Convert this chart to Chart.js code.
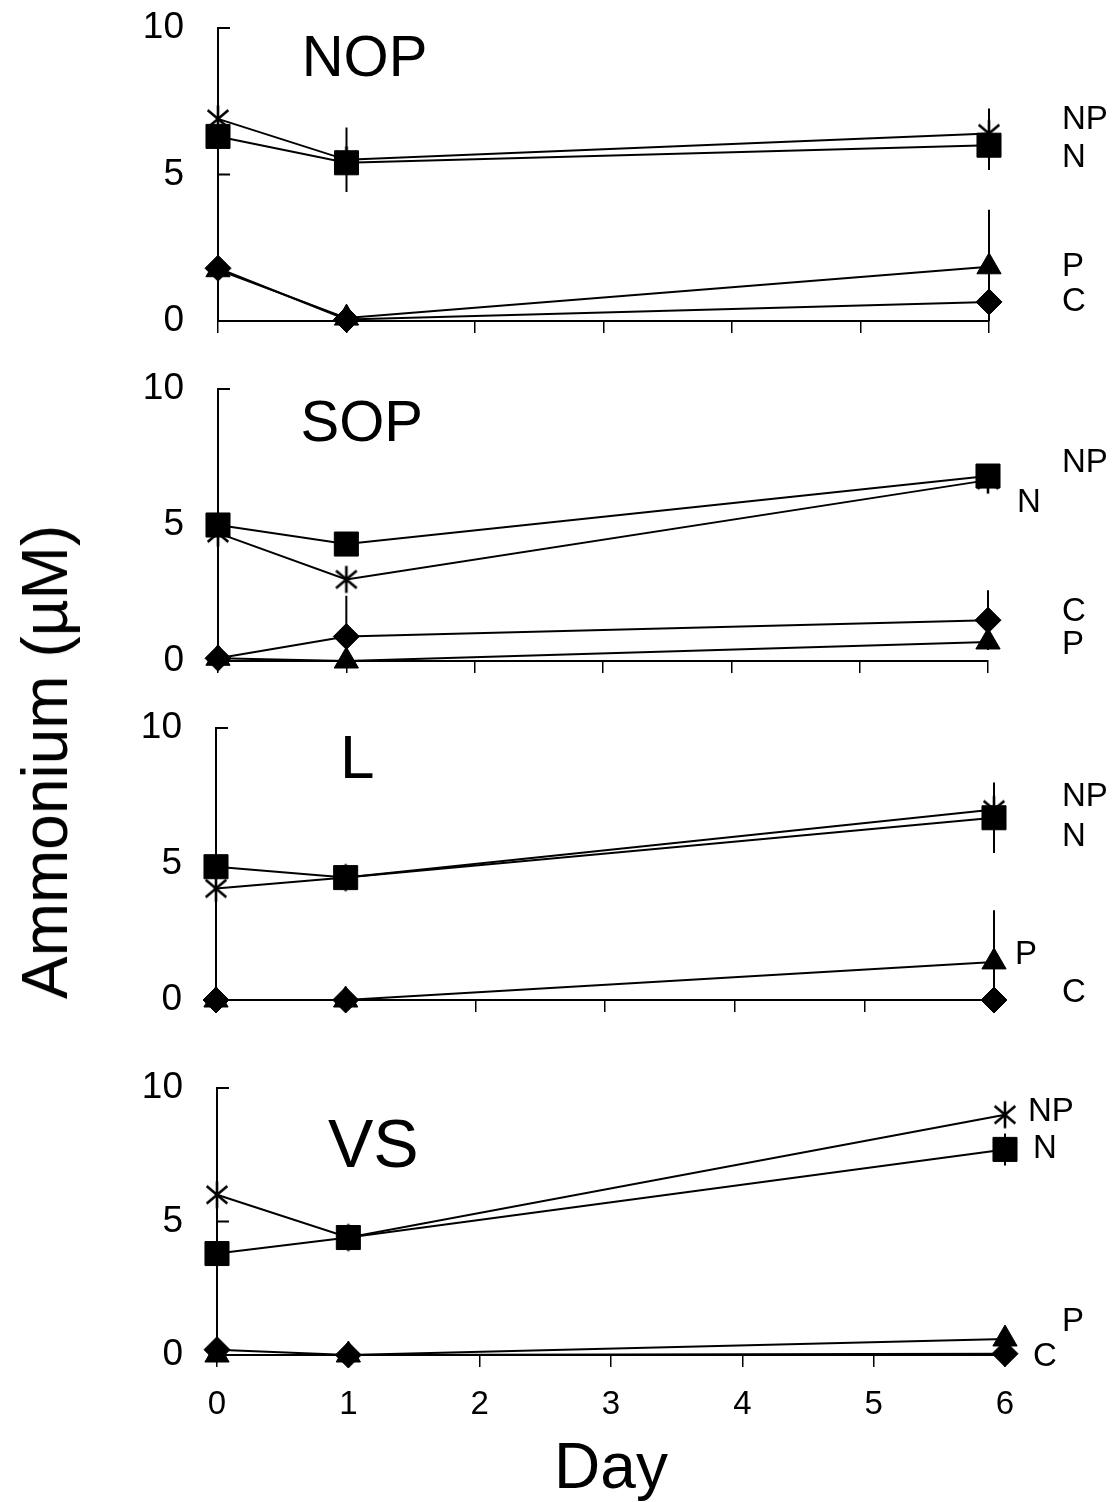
<!DOCTYPE html>
<html>
<head>
<meta charset="utf-8">
<script src="https://cdn.jsdelivr.net/npm/chart.js@4"></script>
<style>
  html, body { margin: 0; padding: 0; background: #fff; }
  #page { position: relative; width: 1112px; height: 1502px; overflow: hidden; background: #fff; }
  .panel { position: absolute; left: 0; width: 1112px; }
  #ylabel {
    position: absolute; left: 45px; top: 762px;
    transform: translate(-50%, -50%) rotate(-90deg);
    font: 64px "Liberation Sans", Arial, sans-serif;
    white-space: nowrap; color: #000;
  }
</style>
</head>
<body>
<div id="page">
  <div class="panel" id="wrap0"><canvas id="c0"></canvas></div>
  <div class="panel" id="wrap1"><canvas id="c1"></canvas></div>
  <div class="panel" id="wrap2"><canvas id="c2"></canvas></div>
  <div class="panel" id="wrap3"><canvas id="c3"></canvas></div>
  <div id="ylabel">Ammonium (µM)</div>
</div>
<script>
// ============================================
// Ammonium (µM) vs Day, four stations
// ============================================

var days = [0, 1, 6];
var xTicks = [0, 1, 2, 3, 4, 5, 6];
var yTicks = [0, 5, 10];

// NOP
var nopNP = [6.9, 5.5, 6.4];
var nopN  = [6.3, 5.4, 6.0];
var nopP  = [1.75, 0.1, 1.85];
var nopC  = [1.8, 0.05, 0.65];
var nopErrNP = [0, 1.1, 0.85];
var nopErrN  = [0, 0, 0.85];
var nopErrP  = [0, 0, 1.95];
var nopErrC  = [0, 0, 0];

// SOP
var sopNP = [4.7, 3.0, 6.65];
var sopN  = [5.0, 4.3, 6.8];
var sopP  = [0.1, 0.0, 0.7];
var sopC  = [0.1, 0.9, 1.5];
var sopErrNP = [0, 0, 0.3];
var sopErrN  = [0, 0, 0.3];
var sopErrP  = [0, 0, 0];
var sopErrC  = [0, 1.5, 1.1];

// L
var lNP = [4.1, 4.5, 7.0];
var lN  = [4.9, 4.5, 6.7];
var lP  = [0.0, 0.0, 1.4];
var lC  = [0.0, 0.0, 0.0];
var lErrNP = [0, 0, 1.0];
var lErrN  = [0, 0, 1.3];
var lErrP  = [0, 0, 1.9];
var lErrC  = [0, 0, 0];

// VS
var vsNP = [6.0, 4.4, 9.0];
var vsN  = [3.8, 4.4, 7.7];
var vsP  = [0.0, 0.0, 0.6];
var vsC  = [0.2, 0.0, 0.05];
var vsErrNP = [0, 0.3, 0.2];
var vsErrN  = [0, 0.35, 0.6];
var vsErrP  = [0, 0, 0];
var vsErrC  = [1.0, 0, 0];

var FONT = '"Liberation Sans", Arial, sans-serif';

// --------------------------------------------------
//  Asterisk marker (Excel style, 6 arms)
// --------------------------------------------------
function makeAsterisk(size) {
    var c = document.createElement('canvas');
    c.width = size; c.height = size;
    var g = c.getContext('2d');
    var m = size / 2, r = size / 2 - 1.5;
    var a = 40 * Math.PI / 180;
    g.strokeStyle = '#000';
    g.lineWidth = 2.6;
    g.beginPath();
    g.moveTo(m, m - r); g.lineTo(m, m + r);
    g.moveTo(m - r * Math.cos(a), m - r * Math.sin(a));
    g.lineTo(m + r * Math.cos(a), m + r * Math.sin(a));
    g.moveTo(m - r * Math.cos(a), m + r * Math.sin(a));
    g.lineTo(m + r * Math.cos(a), m - r * Math.sin(a));
    g.stroke();
    return c;
}
var asterisk = makeAsterisk(30);

// --------------------------------------------------
//  Panel layout (plot area in page pixels, text spots)
// --------------------------------------------------
var panels = [
    { name: 'NOP', area: { left: 218, right: 989, top: 28, bottom: 321 },
      titleAt: [1.14, 8.9], titleSize: 58,
      values: [nopNP, nopN, nopP, nopC], errs: [nopErrNP, nopErrN, nopErrP, nopErrC],
      tags: [['NP', 73, 6.86], ['N', 73, 5.56], ['P', 73, 1.84], ['C', 73, 0.65]] },
    { name: 'SOP', area: { left: 218, right: 988, top: 389, bottom: 661 },
      titleAt: [1.12, 8.68], titleSize: 58,
      values: [sopNP, sopN, sopP, sopC], errs: [sopErrNP, sopErrN, sopErrP, sopErrC],
      tags: [['NP', 74, 7.28], ['N', 29, 5.81], ['C', 74, 1.80], ['P', 74, 0.59]] },
    { name: 'L', area: { left: 216, right: 994, top: 728, bottom: 1000 },
      titleAt: [1.09, 8.79], titleSize: 62,
      values: [lNP, lN, lP, lC], errs: [lErrNP, lErrN, lErrP, lErrC],
      tags: [['NP', 68, 7.46], ['N', 68, 5.99], ['P', 21, 1.65], ['C', 68, 0.26]] },
    { name: 'VS', area: { left: 217, right: 1005, top: 1088, bottom: 1355 },
      titleAt: [1.19, 7.75], titleSize: 68,
      values: [vsNP, vsN, vsP, vsC], errs: [vsErrNP, vsErrN, vsErrP, vsErrC],
      tags: [['NP', 23, 9.1], ['N', 28, 7.72], ['P', 57, 1.24], ['C', 28, -0.07]] }
];

var markers = [
    { style: asterisk, radius: 12 },
    { style: 'rect', radius: 17 },
    { style: 'triangle', radius: 14 },
    { style: 'rectRot', radius: 13 }
];

// --------------------------------------------------
//  Decorations: error bars, inward y ticks, text
// --------------------------------------------------
var panelDecor = {
    id: 'panelDecor',
    beforeDatasetsDraw: function (chart) {
        var xs = chart.scales.x, ys = chart.scales.y, ctx = chart.ctx;
        ctx.save();
        ctx.strokeStyle = '#000';
        ctx.lineWidth = 2;
        ctx.beginPath();
        chart.data.datasets.forEach(function (ds) {
            ds.data.forEach(function (pt, i) {
                var e = ds.err[i];
                if (!e) return;
                var x = xs.getPixelForValue(pt.x);
                ctx.moveTo(x, ys.getPixelForValue(pt.y + e));
                ctx.lineTo(x, ys.getPixelForValue(Math.max(pt.y - e, 0)));
            });
        });
        ctx.stroke();

        // y ticks drawn pointing into the plot
        ctx.lineWidth = 2;
        ctx.beginPath();
        yTicks.forEach(function (v) {
            if (v === 0) return;
            var y = ys.getPixelForValue(v);
            ctx.moveTo(xs.left, y);
            ctx.lineTo(xs.left + 12, y);
        });
        ctx.stroke();
        ctx.restore();
    },
    afterDraw: function (chart) {
        var p = chart.options.plugins.panelDecor;
        var xs = chart.scales.x, ys = chart.scales.y, ctx = chart.ctx;
        ctx.save();
        ctx.fillStyle = '#000';
        ctx.textBaseline = 'middle';

        ctx.textAlign = 'center';
        ctx.font = p.titleSize + 'px ' + FONT;
        ctx.fillText(p.name, xs.getPixelForValue(p.titleAt[0]), ys.getPixelForValue(p.titleAt[1]));

        ctx.textAlign = 'left';
        ctx.font = '33px ' + FONT;
        var x6 = xs.getPixelForValue(6);
        p.tags.forEach(function (t) {
            ctx.fillText(t[0], x6 + t[1], ys.getPixelForValue(t[2]));
        });
        ctx.restore();
    }
};

// --------------------------------------------------
//  Build the four charts
// --------------------------------------------------
panels.forEach(function (p, idx) {
    var isLast = idx === panels.length - 1;
    var padTop = 30;
    var bottomExtra = isLast ? (1502 - p.area.bottom) : 30;
    var canvasTop = p.area.top - padTop;
    var canvasH = p.area.bottom - p.area.top + padTop + bottomExtra;

    var wrap = document.getElementById('wrap' + idx);
    wrap.style.top = canvasTop + 'px';
    wrap.style.height = canvasH + 'px';
    var canvas = document.getElementById('c' + idx);
    canvas.width = 1112;
    canvas.height = canvasH;

    var datasets = p.values.map(function (vals, s) {
        return {
            label: ['NP', 'N', 'P', 'C'][s],
            data: days.map(function (d, i) { return { x: d, y: vals[i] }; }),
            err: p.errs[s],
            borderColor: '#000',
            borderWidth: 2,
            backgroundColor: '#000',
            pointStyle: markers[s].style,
            pointRadius: markers[s].radius,
            pointBackgroundColor: '#000',
            pointBorderColor: '#000',
            pointBorderWidth: 1,
            tension: 0,
            clip: false
        };
    });

    new Chart(canvas.getContext('2d'), {
        type: 'line',
        data: { datasets: datasets },
        plugins: [panelDecor],
        options: {
            responsive: false,
            animation: false,
            devicePixelRatio: 1,
            events: [],
            layout: {
                autoPadding: false,
                padding: { left: 0, top: padTop, right: 1112 - p.area.right, bottom: 0 }
            },
            plugins: {
                legend: { display: false },
                tooltip: { enabled: false },
                panelDecor: p
            },
            scales: {
                x: {
                    type: 'linear',
                    min: 0, max: 6,
                    afterBuildTicks: function (s) {
                        s.ticks = xTicks.map(function (v) { return { value: v }; });
                    },
                    afterFit: function (s) { s.height = bottomExtra; },
                    ticks: {
                        display: isLast,
                        color: '#000',
                        padding: 18,
                        font: { size: 33, family: FONT }
                    },
                    grid: {
                        drawOnChartArea: false,
                        drawTicks: true,
                        tickLength: 12,
                        color: '#000',
                        lineWidth: 1.5
                    },
                    border: { color: '#000', width: 2 },
                    title: {
                        display: isLast,
                        text: 'Day',
                        color: '#000',
                        padding: { top: 4, bottom: 0 },
                        font: { size: 64, family: FONT, lineHeight: 1 }
                    }
                },
                y: {
                    min: 0, max: 10,
                    afterBuildTicks: function (s) {
                        s.ticks = yTicks.map(function (v) { return { value: v }; });
                    },
                    afterFit: function (s) { s.width = p.area.left; },
                    ticks: {
                        color: '#000',
                        padding: 2,
                        font: { size: 37, family: FONT }
                    },
                    // invisible tick marks only keep the label gap
                    grid: {
                        display: true,
                        drawOnChartArea: false,
                        drawTicks: true,
                        tickLength: 32,
                        color: 'rgba(0,0,0,0)'
                    },
                    border: { color: '#000', width: 2 }
                }
            }
        }
    });
});
</script>
</body>
</html>
